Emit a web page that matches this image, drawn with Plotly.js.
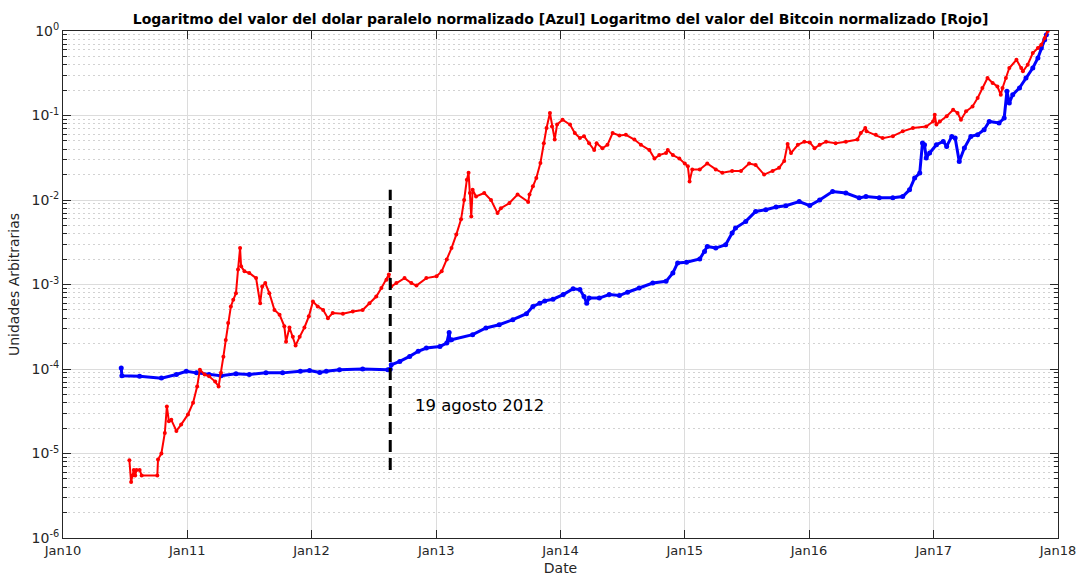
<!DOCTYPE html>
<html>
<head>
<meta charset="utf-8">
<script src="https://cdn.plot.ly/plotly-3.0.1.min.js"></script>
<style>
html,body{margin:0;padding:0;background:#fff;}
#chart{width:1077px;height:576px;}
</style>
</head>
<body>
<div id="chart"></div>
<script>
// Bitcoin (red), normalized
var btcDates = ['2010-07-15','2010-07-20','2010-07-24','2010-07-28','2010-08-01','2010-08-05','2010-08-14','2010-08-20','2010-10-05','2010-10-07','2010-10-17','2010-10-27','2010-11-02','2010-11-08','2010-11-15','2010-11-30','2010-12-14','2011-01-03','2011-01-18','2011-01-30','2011-02-07','2011-02-21','2011-03-06','2011-03-24','2011-04-03','2011-04-10','2011-04-17','2011-04-24','2011-05-01','2011-05-09','2011-05-16','2011-05-24','2011-05-30','2011-06-05','2011-06-08','2011-06-18','2011-07-02','2011-07-22','2011-08-03','2011-08-09','2011-08-18','2011-08-30','2011-09-14','2011-09-29','2011-10-13','2011-10-18','2011-10-28','2011-11-07','2011-11-15','2011-11-27','2011-12-11','2011-12-24','2012-01-05','2012-01-19','2012-02-04','2012-02-18','2012-03-03','2012-04-02','2012-05-01','2012-05-30','2012-06-19','2012-07-09','2012-07-24','2012-08-08','2012-08-15','2012-08-22','2012-09-06','2012-09-30','2012-10-20','2012-11-04','2012-12-03','2013-01-02','2013-01-17','2013-02-01','2013-02-15','2013-03-01','2013-03-15','2013-03-24','2013-04-01','2013-04-06','2013-04-10','2013-04-14','2013-04-18','2013-04-28','2013-05-22','2013-06-11','2013-06-30','2013-07-10','2013-08-04','2013-08-28','2013-09-28','2013-10-02','2013-10-12','2013-10-22','2013-11-03','2013-11-13','2013-11-21','2013-12-01','2013-12-07','2013-12-15','2013-12-22','2014-01-07','2014-01-29','2014-02-12','2014-02-27','2014-03-11','2014-03-26','2014-04-10','2014-04-17','2014-05-04','2014-05-19','2014-06-03','2014-06-23','2014-07-12','2014-08-06','2014-08-25','2014-09-19','2014-10-04','2014-10-18','2014-11-07','2014-11-12','2014-11-27','2014-12-16','2015-01-01','2015-01-10','2015-01-15','2015-01-23','2015-02-14','2015-03-08','2015-04-02','2015-04-21','2015-05-20','2015-06-15','2015-07-09','2015-07-28','2015-08-22','2015-09-16','2015-10-05','2015-10-20','2015-10-30','2015-11-09','2015-11-29','2015-12-18','2016-01-03','2016-01-17','2016-02-01','2016-02-20','2016-03-19','2016-04-18','2016-05-22','2016-06-01','2016-06-14','2016-06-18','2016-07-15','2016-08-04','2016-09-03','2016-10-02','2016-11-01','2016-12-10','2016-12-30','2017-01-04','2017-01-09','2017-01-19','2017-02-08','2017-02-27','2017-03-12','2017-03-22','2017-04-06','2017-04-25','2017-05-10','2017-05-24','2017-06-08','2017-06-23','2017-07-07','2017-07-17','2017-07-22','2017-08-01','2017-08-11','2017-09-01','2017-09-15','2017-09-20','2017-10-04','2017-10-19','2017-11-03','2017-11-13','2017-11-23','2017-12-02'];
var btcValues = [8.3e-6,4.6e-6,5.5e-6,6.4e-6,5.5e-6,6.4e-6,6.4e-6,5.5e-6,5.5e-6,8.5e-6,1.0e-5,1.75e-5,3.6e-5,2.4e-5,2.5e-5,1.85e-5,2.2e-5,2.9e-5,4.0e-5,6.2e-5,9.8e-5,8.6e-5,8.2e-5,7.1e-5,6.2e-5,9.0e-5,1.4e-4,2.2e-4,3.5e-4,5.5e-4,6.6e-4,7.9e-4,1.5e-3,2.7e-3,1.64e-3,1.43e-3,1.37e-3,1.19e-3,6.0e-4,9.5e-4,1.04e-3,7.9e-4,5.0e-4,4.4e-4,3.2e-4,2.1e-4,3.1e-4,2.4e-4,1.9e-4,2.4e-4,3.1e-4,4.2e-4,6.3e-4,5.5e-4,5.0e-4,4.0e-4,4.6e-4,4.5e-4,4.8e-4,5.0e-4,6.0e-4,7.2e-4,9.1e-4,1.14e-3,1.31e-3,9.5e-4,1.04e-3,1.19e-3,1.04e-3,9.7e-4,1.19e-3,1.25e-3,1.43e-3,1.97e-3,2.7e-3,3.9e-3,5.9e-3,1.0e-2,1.74e-2,2.1e-2,1.21e-2,6.4e-3,1.32e-2,1.1e-2,1.21e-2,1.0e-2,7.0e-3,8.0e-3,9.2e-3,1.16e-2,9.5e-3,1.16e-2,1.45e-2,1.82e-2,2.74e-2,4.7e-2,7.1e-2,1.07e-1,7.4e-2,5.2e-2,7.8e-2,8.9e-2,7.8e-2,6.2e-2,5.4e-2,5.7e-2,4.7e-2,3.9e-2,4.7e-2,4.1e-2,4.5e-2,6.2e-2,5.8e-2,5.9e-2,5.2e-2,4.5e-2,3.9e-2,3.1e-2,3.4e-2,3.6e-2,3.9e-2,3.4e-2,3.1e-2,2.7e-2,2.5e-2,1.66e-2,2.3e-2,2.3e-2,2.7e-2,2.3e-2,2.1e-2,2.2e-2,2.2e-2,2.7e-2,2.6e-2,2.0e-2,2.2e-2,2.4e-2,2.9e-2,4.6e-2,3.6e-2,4.5e-2,4.9e-2,4.8e-2,4.1e-2,4.5e-2,4.9e-2,4.7e-2,4.9e-2,5.2e-2,6.2e-2,7.1e-2,6.5e-2,5.9e-2,5.4e-2,5.7e-2,6.5e-2,7.1e-2,7.4e-2,8.5e-2,1.02e-1,7.8e-2,8.5e-2,9.8e-2,1.17e-1,1.07e-1,8.9e-2,1.12e-1,1.28e-1,1.61e-1,2.12e-1,2.78e-1,2.43e-1,2.21e-1,1.76e-1,2.12e-1,2.78e-1,3.65e-1,4.57e-1,3.65e-1,3.33e-1,3.99e-1,5.49e-1,6.3e-1,6.89e-1,8.26e-1,1.0];

// Parallel dollar (blue), normalized
var usdDates = ['2010-06-21','2010-06-23','2010-08-14','2010-10-17','2010-11-30','2010-12-29','2011-01-28','2011-03-06','2011-04-10','2011-05-24','2011-07-02','2011-08-20','2011-10-08','2011-11-29','2011-12-26','2012-01-25','2012-02-13','2012-03-23','2012-05-30','2012-08-12','2012-08-19','2012-08-22','2012-09-16','2012-10-15','2012-11-09','2012-12-03','2013-01-12','2013-02-01','2013-02-08','2013-02-10','2013-02-15','2013-04-18','2013-05-27','2013-07-05','2013-08-14','2013-09-23','2013-10-12','2013-11-01','2013-11-16','2013-12-10','2014-01-09','2014-02-07','2014-02-27','2014-03-11','2014-03-19','2014-03-26','2014-04-25','2014-05-24','2014-06-23','2014-07-17','2014-08-20','2014-09-29','2014-11-07','2014-11-27','2014-12-11','2015-01-06','2015-02-14','2015-02-28','2015-03-08','2015-04-02','2015-05-01','2015-05-20','2015-05-30','2015-06-29','2015-07-28','2015-08-27','2015-09-26','2015-10-25','2015-12-03','2016-01-03','2016-02-01','2016-03-10','2016-04-18','2016-05-27','2016-06-16','2016-07-25','2016-09-03','2016-10-02','2016-10-22','2016-11-06','2016-11-21','2016-11-29','2016-12-05','2016-12-10','2016-12-20','2017-01-09','2017-01-29','2017-02-08','2017-02-23','2017-03-05','2017-03-17','2017-04-01','2017-04-20','2017-05-10','2017-05-29','2017-06-13','2017-07-12','2017-07-27','2017-08-04','2017-08-11','2017-08-21','2017-09-10','2017-09-29','2017-10-19','2017-11-03','2017-11-13','2017-11-23','2017-11-28'];
var usdValues = [1.03e-4,8.3e-5,8.2e-5,7.8e-5,8.6e-5,9.4e-5,9.0e-5,8.6e-5,8.3e-5,8.8e-5,8.6e-5,9.0e-5,9.0e-5,9.4e-5,9.6e-5,9.1e-5,9.4e-5,9.8e-5,1.0e-4,9.8e-5,9.9e-5,1.12e-4,1.23e-4,1.41e-4,1.62e-4,1.77e-4,1.85e-4,2.03e-4,2.71e-4,2.2e-4,2.22e-4,2.55e-4,3.06e-4,3.34e-4,3.83e-4,4.51e-4,5.5e-4,6.0e-4,6.4e-4,6.7e-4,7.6e-4,8.9e-4,8.7e-4,7.2e-4,6.0e-4,6.9e-4,6.9e-4,7.6e-4,7.4e-4,8.1e-4,9.1e-4,1.04e-3,1.09e-3,1.37e-3,1.8e-3,1.83e-3,2.0e-3,2.46e-3,2.82e-3,2.7e-3,2.96e-3,4.07e-3,4.66e-3,5.58e-3,7.33e-3,7.68e-3,8.26e-3,8.57e-3,9.6e-3,8.6e-3,1.0e-2,1.26e-2,1.21e-2,1.06e-2,1.1e-2,1.06e-2,1.06e-2,1.1e-2,1.32e-2,1.82e-2,2.09e-2,4.73e-2,4.51e-2,3.14e-2,3.6e-2,4.51e-2,4.94e-2,4.31e-2,5.66e-2,5.42e-2,2.86e-2,4.12e-2,5.66e-2,5.93e-2,6.79e-2,8.51e-2,8.15e-2,9.34e-2,1.93e-1,1.41e-1,1.76e-1,2.12e-1,2.78e-1,3.65e-1,4.79e-1,6.3e-1,7.89e-1,9.0e-1];

// Event marker: 19 agosto 2012
var eventDates = ['2012-08-19','2012-08-19'];
var eventValues = [6.4e-6, 1.32e-2];
var eventLabel = '19 agosto 2012';
var eventLabelDate = '2012-10-24';
var eventLabelValue = 3.7e-5;

// Axis ticks
var xTickVals = ['2010-01-01','2011-01-01','2012-01-01','2013-01-01','2014-01-01','2015-01-01','2016-01-01','2017-01-01','2018-01-01'];
var xTickText = ['Jan10','Jan11','Jan12','Jan13','Jan14','Jan15','Jan16','Jan17','Jan18'];
var yTickVals = [1e-6,1e-5,1e-4,1e-3,1e-2,1e-1,1];
var yTickText = ['10<sup>-6</sup>','10<sup>-5</sup>','10<sup>-4</sup>','10<sup>-3</sup>','10<sup>-2</sup>','10<sup>-1</sup>','10<sup>0</sup>'];
var yMinorVals = [];
for (var d = -6; d < 0; d++) { for (var m = 2; m <= 9; m++) { yMinorVals.push(m * Math.pow(10, d)); } }

var FONT = 'DejaVu Sans, sans-serif';
var AX = '#262626';

var traces = [
  {x: usdDates, y: usdValues, type: 'scatter', mode: 'lines+markers',
   line: {color: '#0000ff', width: 3}, marker: {color: '#0000ff', size: 5}, hoverinfo: 'skip'},
  {x: btcDates, y: btcValues, type: 'scatter', mode: 'lines+markers',
   line: {color: '#ff0000', width: 2}, marker: {color: '#ff0000', size: 4}, hoverinfo: 'skip'},
  {x: eventDates, y: eventValues, type: 'scatter', mode: 'lines',
   line: {color: '#000000', width: 3, dash: '12px,6px'}, hoverinfo: 'skip'}
];

var layout = {
  width: 1077, height: 576,
  margin: {l: 63, r: 19, t: 31, b: 38},
  paper_bgcolor: '#ffffff', plot_bgcolor: '#ffffff',
  showlegend: false,
  font: {family: FONT, size: 13, color: AX},
  title: {text: 'Logaritmo del valor del dolar paralelo normalizado [Azul] Logaritmo del valor del Bitcoin normalizado [Rojo]',
          font: {family: FONT, size: 14, color: '#000000', weight: 'bold'},
          x: 0.5205, xanchor: 'center', y: 0.967, yanchor: 'middle'},
  xaxis: {
    type: 'date', range: ['2010-01-01','2018-01-01'],
    tickmode: 'array', tickvals: xTickVals, ticktext: xTickText,
    ticks: 'inside', ticklen: 8, tickcolor: AX, tickwidth: 1,
    showline: true, linecolor: AX, linewidth: 1, mirror: 'ticks',
    showgrid: true, gridcolor: '#dcdcdc', gridwidth: 1,
    zeroline: false, automargin: false,
    tickfont: {family: FONT, size: 13, color: AX},
    title: {text: 'Date', font: {family: FONT, size: 14, color: AX}, standoff: 6}
  },
  yaxis: {
    type: 'log', range: [-6, 0],
    tickmode: 'array', tickvals: yTickVals, ticktext: yTickText,
    ticks: 'inside', ticklen: 8, tickcolor: AX, tickwidth: 1,
    showline: true, linecolor: AX, linewidth: 1, mirror: 'ticks',
    showgrid: true, gridcolor: '#dcdcdc', gridwidth: 1,
    zeroline: false, automargin: false,
    tickfont: {family: FONT, size: 14, color: AX},
    minor: {tickmode: 'array', tickvals: yMinorVals, ticks: 'inside', ticklen: 4, tickcolor: AX,
            showgrid: true, gridcolor: '#d2d2d2', griddash: '2px,3px', gridwidth: 1},
    title: {text: 'Unidades Arbitrarias', font: {family: FONT, size: 14, color: AX}, standoff: 8}
  },
  annotations: [
    {x: eventLabelDate, y: Math.log10(eventLabelValue), xref: 'x', yref: 'y', text: eventLabel,
     showarrow: false, xanchor: 'left', yanchor: 'middle',
     font: {family: FONT, size: 16.5, color: '#000000'}}
  ]
};

Plotly.newPlot('chart', traces, layout, {displayModeBar: false, staticPlot: true});
</script>
</body>
</html>
